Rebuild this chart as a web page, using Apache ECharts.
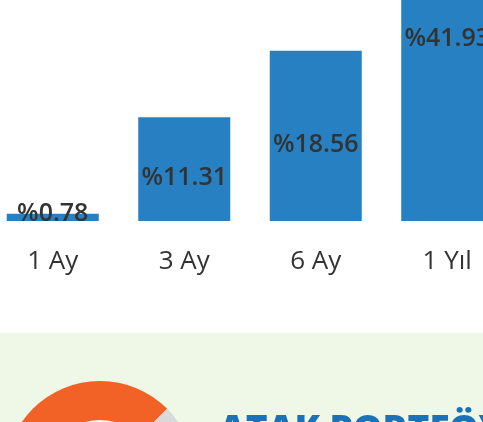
<!DOCTYPE html>
<html>
<head>
<meta charset="utf-8">
<script src="https://cdn.jsdelivr.net/npm/echarts@6/dist/echarts.min.js"></script>
<style>
  html, body { margin: 0; padding: 0; background: #fff; }
  #main { width: 483px; height: 422px; }
</style>
</head>
<body>
<div id="main"></div>
<script>
const periods = ['1 Ay', '3 Ay', '6 Ay', '1 Yıl']
const returns = [0.78, 11.31, 18.56, 41.93]

// logo ring pieces
const ringNames = ['orange', 'grey']
const ringValues = [75, 25]

// label nudges (the last bar runs past the top, so its label sits high)
const labelShift = [-4, 9, 9, -72]

const myChart = echarts.init(document.getElementById('main'))

myChart.setOption({
    animation: false,
    graphic: [
        {
            type: 'rect',
            left: 0,
            top: 333,
            z: -10,
            shape: { width: 483, height: 89 },
            style: { fill: '#eff7e6' }
        },
        {
            type: 'text',
            left: 219,
            top: 413,
            z: 10,
            style: {
                text: 'ATAK PORTFÖY',
                fill: '#1a72b9',
                font: '800 37px "Open Sans"'
            }
        }
    ],
    grid: {
        left: -13,
        width: 526,
        top: 0,
        height: 221,
        outerBoundsMode: 'none',
        containLabel: false
    },
    xAxis: {
        type: 'category',
        data: periods,
        axisLine: { show: false },
        axisTick: { show: false },
        axisLabel: {
            margin: 28,
            fontSize: 26,
            fontFamily: 'Open Sans',
            color: '#333'
        }
    },
    yAxis: {
        type: 'value',
        min: 0,
        max: 24.1,
        show: false,
        splitLine: { show: false }
    },
    series: [
        {
            type: 'bar',
            barWidth: 92,
            clip: true,
            itemStyle: { color: '#2680c2' },
            data: returns.map((v, i) => ({
                value: v,
                label: { offset: [0, labelShift[i]] }
            })),
            label: {
                show: true,
                position: 'inside',
                formatter: p => '%' + p.value,
                fontSize: 25,
                fontWeight: 600,
                fontFamily: 'Open Sans',
                color: '#333'
            }
        },
        {
            type: 'pie',
            center: [100, 476],
            radius: [56, 95],
            clockwise: false,
            startAngle: 45,
            silent: true,
            label: { show: false },
            labelLine: { show: false },
            data: ringNames.map((n, i) => ({
                name: n,
                value: ringValues[i],
                itemStyle: { color: i === 0 ? '#f26125' : '#d9d9d9' }
            }))
        }
    ]
})
</script>
</body>
</html>
